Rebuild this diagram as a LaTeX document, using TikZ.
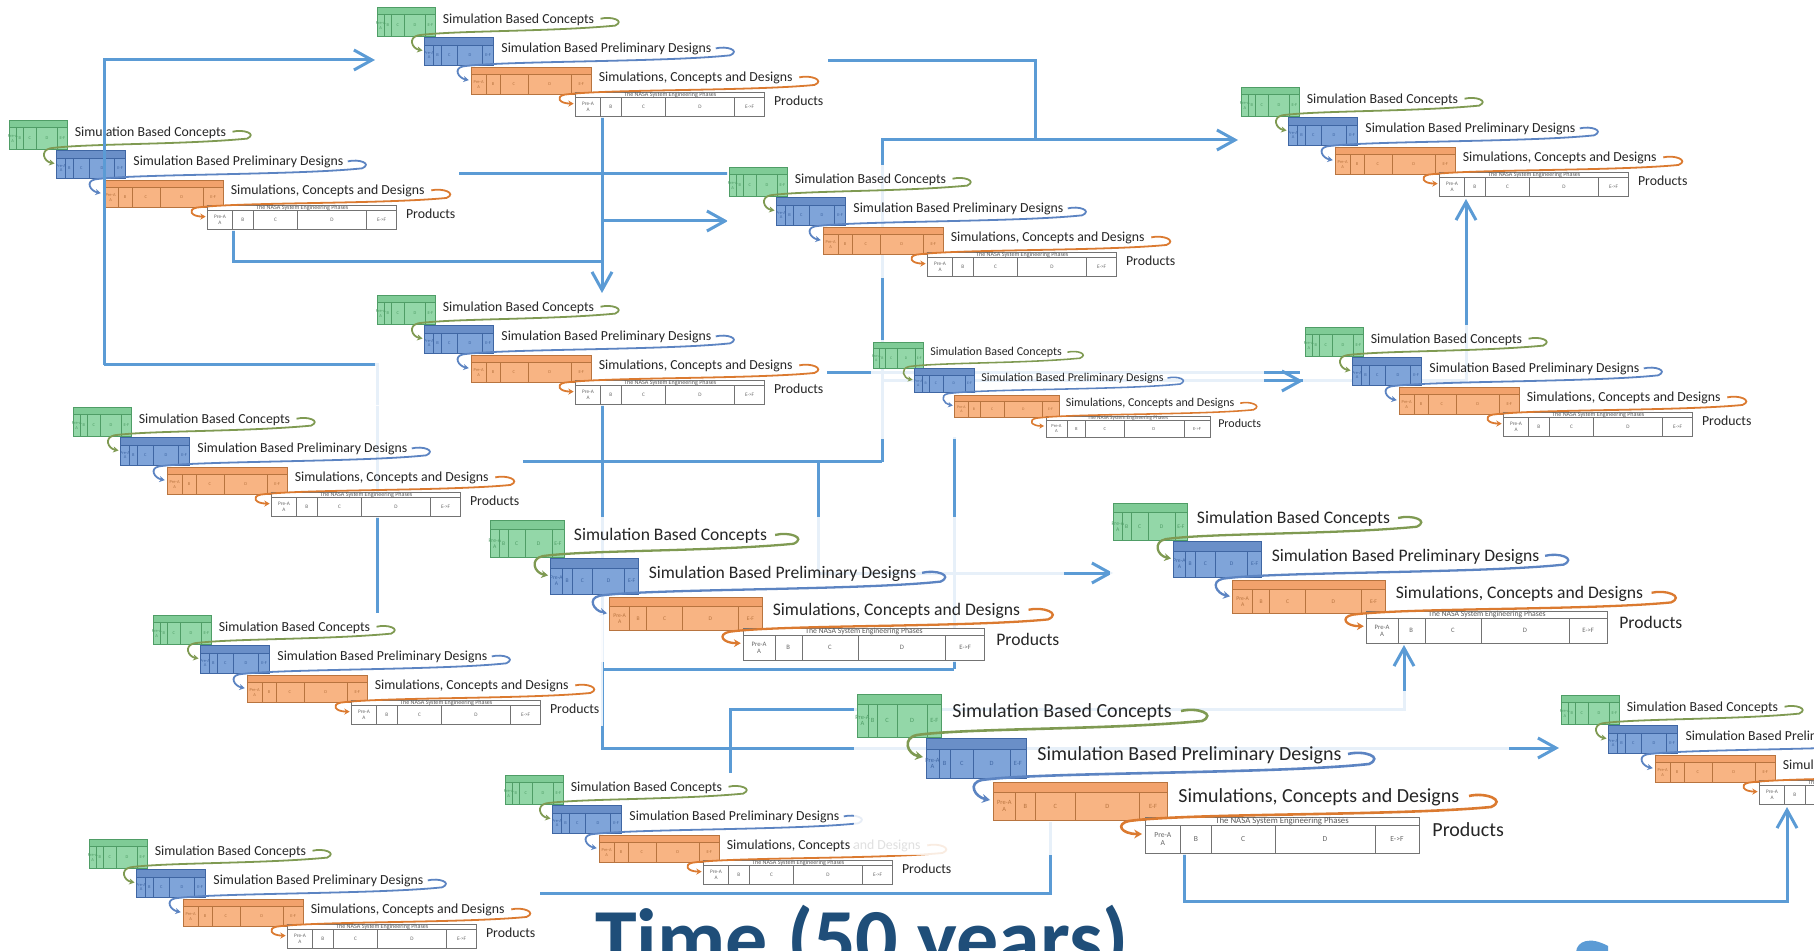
\documentclass[tikz,border=0pt]{standalone}
\usepackage{fontspec}
\setmainfont{Carlito}
\usetikzlibrary{arrows.meta,calc}
\definecolor{connblue}{HTML}{5B9BD5}
\definecolor{gfill}{HTML}{93D7A8}
\definecolor{gdraw}{HTML}{4F9D66}
\definecolor{ghead}{HTML}{7FCB96}
\definecolor{bfill}{HTML}{7FA4D9}
\definecolor{bdraw}{HTML}{3F66A3}
\definecolor{bhead}{HTML}{6A8FC8}
\definecolor{ofill}{HTML}{F8B483}
\definecolor{odraw}{HTML}{B8743F}
\definecolor{ohead}{HTML}{F2A26C}
\definecolor{gcurve}{HTML}{7F9A52}
\definecolor{bcurve}{HTML}{5C84C2}
\definecolor{ocurve}{HTML}{DB7A30}
\definecolor{timeblue}{HTML}{1F4E79}
\tikzset{
  conn/.style={draw=connblue, line width=1.5pt},
  connarrow/.style={conn, -{Straight Barb[length=9pt,width=10pt]}},
  lbl/.style={anchor=west, inner sep=0pt, font=\fontsize{10}{12}\selectfont, text=black!85},
  cell/.style={inner sep=0pt, align=center, font=\fontsize{3.2}{3.4}\selectfont},
  hdr/.style={inner sep=0pt, font=\fontsize{4.4}{4.6}\selectfont, text=black!65},
}
% phase box: name, x, y, w, h, header height, fill, draw, head
\newcommand\phasebox[9]{%
  \fill[#7] (#2,#3) rectangle ++(#4,#5);
  \fill[#9] (#2,#3) rectangle ++(#4,#6);
  \draw[#8, line width=\clw*0.45pt] (#2,#3) rectangle ++(#4,#5);
  \draw[#8, line width=\clw*0.3pt] (#2,#3+#6) -- ++(#4,0);
  \foreach \f in {0.13,0.242,0.475,0.839}
    \draw[#8, line width=\clw*0.3pt] (#2+\f*#4,#3+#6) -- ++(0,#5-#6);
  \foreach \f/\t in {0.065/{Pre-A\\A},0.186/B,0.3585/C,0.657/D,0.9195/E-F}
    \node[cell, text=#8] at (#2+\f*#4,#3+#6/2+#5/2) {\t};
  \node[inner sep=0pt, minimum width=#4*0.5pt, minimum height=#5*0.5pt, anchor=north west] (#1) at (#2,#3) {};
}
% products table: name, x, y, w, h, header height
\newcommand\tablebox[6]{%
  \fill[white] (#2,#3) rectangle ++(#4,#5);
  \draw[black!55, line width=\clw*0.45pt] (#2,#3) rectangle ++(#4,#5);
  \draw[black!55, line width=\clw*0.3pt] (#2,#3+#6) -- ++(#4,0);
  \foreach \f in {0.13,0.242,0.475,0.839}
    \draw[black!55, line width=\clw*0.3pt] (#2+\f*#4,#3+#6) -- ++(0,#5-#6);
  \node[hdr] at (#2+#4/2,#3+#6/2) {The NASA System Engineering Phases};
  \foreach \f/\t in {0.065/{Pre-A\\A},0.186/B,0.3585/C,0.657/D,0.9195/E->F}
    \node[cell, text=black!60, font=\fontsize{3.8}{4.2}\selectfont] at (#2+\f*#4,#3+#6/2+#5/2) {\t};
  \node[inner sep=0pt, minimum width=#4*0.5pt, minimum height=#5*0.5pt, anchor=north west] (#1) at (#2,#3) {};
}
% cluster: name, x, y, scale
\newcommand\cluster[4]{%
  \begin{scope}[shift={(#2,#3)}, scale=#4, transform shape]
    \pgfmathsetmacro\clw{#4}
    \fill[white, opacity=0.86] (-3,-3) rectangle (652,161);
    \phasebox{#1-g}{0}{0}{84}{43}{10}{gfill}{gdraw}{ghead}
    \phasebox{#1-b}{69}{44}{100}{40}{11}{bfill}{bdraw}{bhead}
    \phasebox{#1-o}{136}{88}{174}{38}{10}{ofill}{odraw}{ohead}
    \tablebox{#1-t}{288}{123}{274}{36}{8}
    \node[lbl] (#1-l1) at (95,18) {Simulation Based Concepts};
    \node[lbl] (#1-l2) at (180,61) {Simulation Based Preliminary Designs};
    \node[lbl] (#1-l3) at (321,103) {Simulations, Concepts and Designs};
    \node[lbl] (#1-l4) at (575,136) {Products};
    \draw[gcurve, line width=\clw*1.3pt, -{Stealth[length=0pt 3, width=0pt 3.4]}]
      (324,17) .. controls (340,13) and (360,20) .. (345,27)
      .. controls (250,36) and (110,34) .. (60,41)
      .. controls (45,44) and (50,60) .. (66,63);
    \draw[bcurve, line width=\clw*1.3pt, -{Stealth[length=0pt 3, width=0pt 3.4]}]
      (491,60) .. controls (507,56) and (527,63) .. (512,70)
      .. controls (420,80) and (180,78) .. (125,86)
      .. controls (110,89) and (118,103) .. (133,106);
    \draw[ocurve, line width=\clw*1.3pt, -{Stealth[length=0pt 3, width=0pt 3.4]}]
      (612,102) .. controls (628,98) and (650,106) .. (634,113)
      .. controls (540,122) and (330,119) .. (272,127)
      .. controls (258,130) and (264,140) .. (285,140);
  \end{scope}%
}
\begin{document}
\begin{tikzpicture}[x=0.5pt, y=-0.5pt]
\useasboundingbox (0,0) rectangle (1814,951);
\clip (0,0) rectangle (1814,951);
% connector points
\coordinate (p1) at (377,613); \coordinate (p2) at (377,365);
\coordinate (p3) at (104,365); \coordinate (p4) at (104,60); \coordinate (p5) at (375,60);
\coordinate (q1) at (828,61); \coordinate (q2) at (1035,61); \coordinate (q3) at (1035,140);
\coordinate (r1) at (882,462); \coordinate (r2) at (882,140); \coordinate (r3) at (1238,140);
\coordinate (s3a) at (459,174); \coordinate (s3b) at (728,174);
\coordinate (s4a) at (602,117); \coordinate (s4b) at (602,293);
\coordinate (s5a) at (602,221); \coordinate (s5b) at (728,221);
\coordinate (s6a) at (233,230); \coordinate (s6b) at (233,262); \coordinate (s6c) at (602,262);
\coordinate (s7a) at (523,462);
\coordinate (s8a) at (827,373); \coordinate (s8b) at (1300,373);
\coordinate (s8c) at (882,381); \coordinate (s8d) at (1466,381); \coordinate (s8e) at (1466,199);
\coordinate (s8f) at (1262,381); \coordinate (s8g) at (1303,381);
\coordinate (s9a) at (954,437); \coordinate (s9b) at (954,669);
\coordinate (s10a) at (818,462); \coordinate (s10b) at (818,573); \coordinate (s10c) at (1113,573);
\coordinate (s11a) at (602,405); \coordinate (s11b) at (602,748); \coordinate (s11c) at (1559,748);
\coordinate (s11d) at (602,669);
\coordinate (s13a) at (730,773); \coordinate (s13b) at (730,709); \coordinate (s13c) at (1404,709); \coordinate (s13d) at (1404,645);
\coordinate (s14a) at (540,893); \coordinate (s14b) at (1050,893); \coordinate (s14c) at (1050,822);
\coordinate (s15a) at (1184,853); \coordinate (s15b) at (1184,901); \coordinate (s15c) at (1787,901); \coordinate (s15d) at (1787,807);
% connectors behind clusters
\draw[conn] (p1) -- (p2) -- (p3);
\draw[conn] (q1) -- (q2) -- (q3);
\draw[connarrow] (r1) -- (r2) -- (r3);
\draw[conn] (s3a) -- (s3b);
\draw[connarrow] (s4a) -- (s4b);
\draw[connarrow] (s5a) -- (s5b);
\draw[conn] (s6a) -- (s6b) -- (s6c);
\draw[conn] (s7a) -- (r1);
\draw[conn] (s8a) -- (s8b);
\draw[connarrow] (s8c) -- (s8d) -- (s8e);
\draw[connarrow] (s8f) -- (s8g);
\draw[conn] (s9a) -- (s9b);
\draw[connarrow] (s10a) -- (s10b) -- (s10c);
\draw[connarrow] (s11a) -- (s11b) -- (s11c);
\draw[conn] (s11d) -- (s9b);
\draw[connarrow] (s13a) -- (s13b) -- (s13c) -- (s13d);
\draw[conn] (s14a) -- (s14b) -- (s14c);
\draw[connarrow] (s15a) -- (s15b) -- (s15c) -- (s15d);
% clusters
\cluster{c1}{377}{7}{0.69}
\cluster{c2}{9}{120}{0.69}
\cluster{c3}{729}{167}{0.69}
\cluster{c4}{1241}{87}{0.69}
\cluster{c5}{377}{295}{0.69}
\cluster{c6}{873}{342}{0.6}
\cluster{c7}{1305}{327}{0.69}
\cluster{c8}{73}{407}{0.69}
\cluster{c9}{490}{520}{0.88}
\cluster{c10}{1113}{503}{0.88}
\cluster{c11}{153}{615}{0.69}
\cluster{c13}{505}{775}{0.69}
\cluster{c14}{89}{839}{0.69}
\cluster{c12}{857}{694}{1}
\cluster{c15}{1561}{695}{0.69}
% connector in front
\draw[connarrow] (p3) -- (p4) -- (p5);
% title
\node[anchor=base west, inner sep=0pt, font=\bfseries\fontsize{42}{50}\selectfont, text=timeblue] (time) at (595,967) {Time (50 years)};
\fill[connblue] (1576,952) .. controls (1577,941) and (1590,936) .. (1608,946) -- (1608,952) -- cycle;
\end{tikzpicture}
\end{document}
